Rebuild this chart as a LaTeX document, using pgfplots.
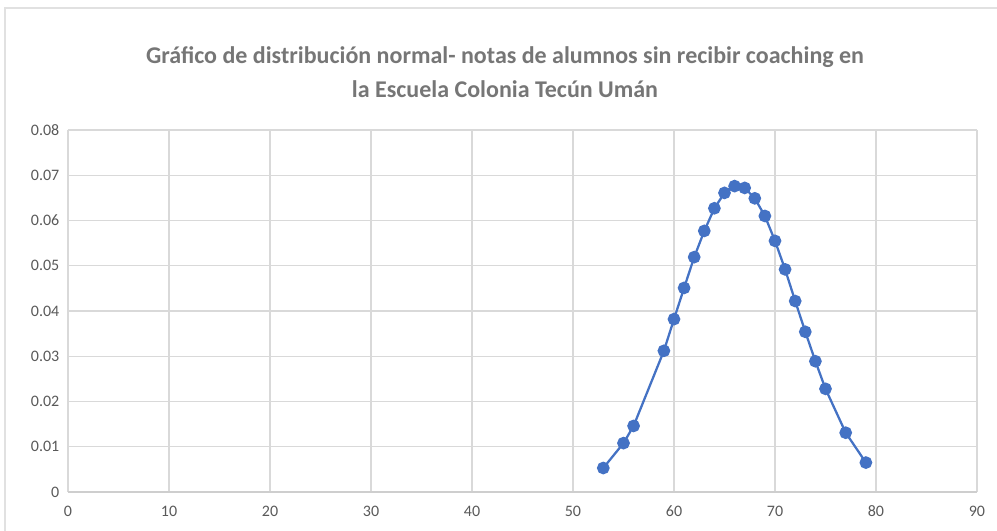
\documentclass[border=0pt]{standalone}
\usepackage{fontspec}
\setmainfont{Carlito}
\usepackage{pgfplots}
\pgfplotsset{compat=1.18}
\definecolor{serie}{HTML}{4472C4}
\definecolor{gridc}{HTML}{D9D9D9}
\definecolor{tick}{HTML}{595959}
\definecolor{titlec}{HTML}{767676}

\pgfplotstableread{
x y
53 0.0053
55 0.0108
56 0.0146
59 0.0312
60 0.0382
61 0.0451
62 0.0519
63 0.0577
64 0.0627
65 0.0661
66 0.0676
67 0.0672
68 0.0649
69 0.0610
70 0.0555
71 0.0492
72 0.0422
73 0.0354
74 0.0289
75 0.0228
77 0.0131
79 0.0065
}\notas

\begin{document}
\begin{tikzpicture}[x=0.75pt,y=0.75pt]
% page: 997 x 531 px, axis lower-left at px (68,492)
\path[use as bounding box] (-68,-39) rectangle (929,492);
\draw[gridc!80,line width=0.8pt] (-63,-45) -- (-63,484) -- (935,484);
\begin{axis}[
    at={(0,0)}, anchor=south west,
    scale only axis,
    width=681.75pt, height=271.5pt,
    xmin=0, xmax=90, ymin=0, ymax=0.08,
    xtick={0,10,...,90},
    ytick={0,0.01,...,0.08},
    scaled ticks=false,
    grid=major,
    grid style={gridc, line width=0.8pt},
    axis line style={draw=none},
    axis x line*=bottom,
    x axis line style={draw=gridc!80!black!60, line width=0.8pt},
    axis y line*=left,
    y axis line style={draw=none},
    major tick length=0pt,
    tick label style={font=\fontsize{12}{14}\selectfont, text=tick},
    /pgf/number format/assume math mode=true,
    yticklabel style={/pgf/number format/fixed, /pgf/number format/precision=2, xshift=-3pt},
    xticklabel style={yshift=-7pt},
    clip=false,
]
\addplot[serie, line width=1.7pt, mark=*, mark size=3.9pt, mark options={fill=serie, draw=serie}] table[x=x,y=y] {\notas};
\end{axis}
\node[font=\bfseries\fontsize{18}{26}\selectfont, text=titlec, align=center] at (437,420)
  {Gráfico de distribución normal- notas de alumnos sin recibir coaching en\\la Escuela Colonia Tecún Umán};
\end{tikzpicture}
\end{document}
